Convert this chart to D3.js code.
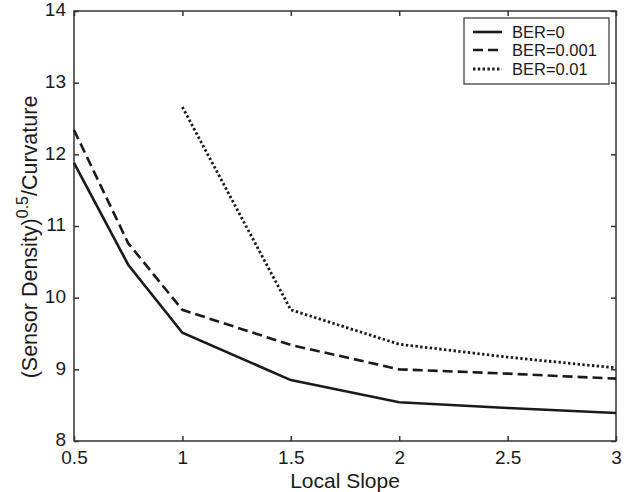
<!DOCTYPE html>
<html><head><meta charset="utf-8">
<script src="https://cdn.jsdelivr.net/npm/d3@7"></script>
<style>body{margin:0;background:#fff}svg{display:block}text{font-family:"Liberation Sans",Arial,sans-serif;fill:#1a1a1a}</style>
</head><body>
<svg id="c" width="636" height="492"></svg>
<script>
const xValues = [0.5, 0.75, 1, 1.5, 2, 2.5, 3];
const ber0 = [11.88, 10.46, 9.51, 8.85, 8.54, 8.46, 8.39];
const ber001 = [12.34, 10.76, 9.83, 9.34, 9.0, 8.94, 8.87];
const ber01 = [null, null, 12.66, 9.83, 9.35, 9.17, 9.02];
const seriesNames = ["BER=0", "BER=0.001", "BER=0.01"];
const xTicks = [0.5, 1, 1.5, 2, 2.5, 3];
const yTicks = [8, 9, 10, 11, 12, 13, 14];

const svg = d3.select("#c");
const L = 74, R = 616, T = 11, B = 441;
const x = d3.scaleLinear().domain([0.5, 3]).range([L, R]);
const y = d3.scaleLinear().domain([8, 14]).range([B, T]);
const ink = "#1a1a1a", axisCol = "#333";

svg.append("rect").attr("x", L).attr("y", T).attr("width", R - L).attr("height", B - T)
  .attr("fill", "none").attr("stroke", axisCol).attr("stroke-width", 1.5);

const fmt = d => d3.format("")(d);
const gx = svg.append("g").attr("transform", `translate(0,${B})`)
  .call(d3.axisBottom(x).tickValues(xTicks).tickSize(-5).tickPadding(10).tickFormat(fmt));
const gxt = svg.append("g").attr("transform", `translate(0,${T})`)
  .call(d3.axisTop(x).tickValues(xTicks).tickSize(-5).tickFormat(""));
const gy = svg.append("g").attr("transform", `translate(${L},0)`)
  .call(d3.axisLeft(y).tickValues(yTicks).tickSize(-5).tickPadding(8).tickFormat(fmt));
const gyr = svg.append("g").attr("transform", `translate(${R},0)`)
  .call(d3.axisRight(y).tickValues(yTicks).tickSize(-5).tickFormat(""));
[gx, gxt, gy, gyr].forEach(g => {
  g.select(".domain").remove();
  g.selectAll(".tick line").attr("stroke", axisCol).attr("stroke-width", 1.5);
  g.selectAll("text").attr("font-size", 19).style("fill", ink);
});
gx.selectAll("text").attr("dy", "0.71em");
gy.selectAll("text").attr("dy", "0.25em");

const lineGen = d3.line().defined(d => d[1] != null).x(d => x(d[0])).y(d => y(d[1]));
const dashes = [null, "10,5", "2.4,2.4"];
const widths = [2.6, 2.6, 2.8];
[ber0, ber001, ber01].forEach((s, i) => {
  svg.append("path").datum(xValues.map((v, j) => [v, s[j]]))
    .attr("d", lineGen).attr("fill", "none").attr("stroke", ink)
    .attr("stroke-width", widths[i]).attr("stroke-dasharray", dashes[i])
    .attr("stroke-linejoin", "miter");
});

const lg = svg.append("g");
lg.append("rect").attr("x", 464).attr("y", 18).attr("width", 145).attr("height", 66)
  .attr("fill", "#fff").attr("stroke", axisCol).attr("stroke-width", 1.2);
const rows = [32, 50, 69];
seriesNames.forEach((n, i) => {
  lg.append("line").attr("x1", 473).attr("x2", 502).attr("y1", rows[i]).attr("y2", rows[i])
    .attr("stroke", ink).attr("stroke-width", widths[i]).attr("stroke-dasharray", dashes[i]);
  lg.append("text").attr("x", 512).attr("y", rows[i]).attr("dy", "0.36em")
    .attr("font-size", 16.5).text(n);
});

svg.append("text").attr("x", (L + R) / 2).attr("y", 488).attr("text-anchor", "middle")
  .attr("font-size", 21).text("Local Slope");
const yl = svg.append("text").attr("transform", "translate(37,237) rotate(-90)")
  .attr("text-anchor", "middle").attr("font-size", 21.5);
yl.append("tspan").text("(Sensor Density)");
yl.append("tspan").attr("font-size", 16).attr("dy", -9).text("0.5");
yl.append("tspan").attr("dy", 9).text("/Curvature");
</script>
</body></html>
